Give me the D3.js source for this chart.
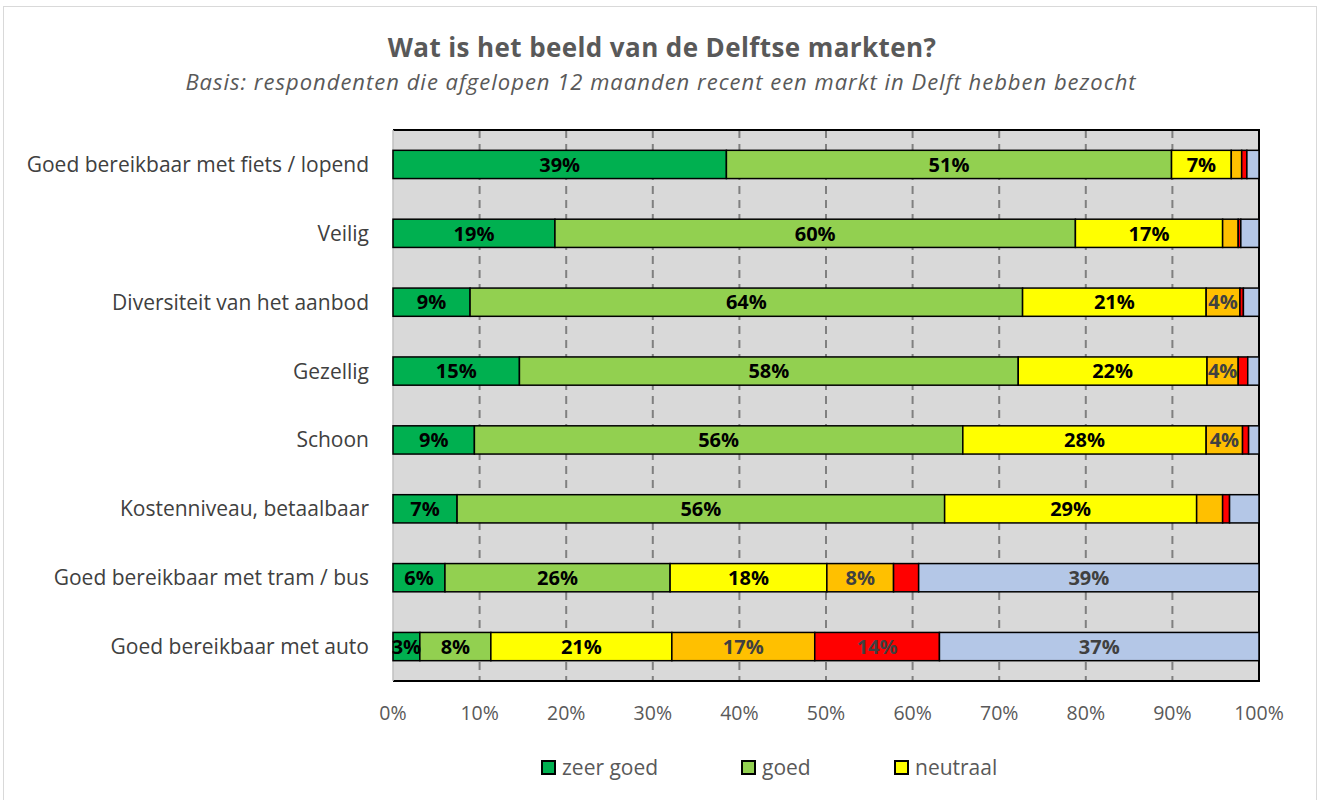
<!DOCTYPE html>
<html>
<head>
<meta charset="utf-8">
<script src="https://cdn.jsdelivr.net/npm/d3@7"></script>
<style>
  body { margin: 0; background: #fff; overflow: hidden; }
  text { font-family: "Open Sans", Lato, sans-serif; }
</style>
</head>
<body>
<svg id="chart" width="1321" height="800"></svg>
<script>
// categories (top to bottom)
var categories = [
    "Goed bereikbaar met fiets / lopend",
    "Veilig",
    "Diversiteit van het aanbod",
    "Gezellig",
    "Schoon",
    "Kostenniveau, betaalbaar",
    "Goed bereikbaar met tram / bus",
    "Goed bereikbaar met auto"
];

// series values (%), one per category
var zeerGoed   = [38.5, 18.7,  8.9, 14.6,  9.4,  7.4,  6.0,  3.1];
var goed       = [51.4, 60.1, 63.8, 57.6, 56.4, 56.3, 26.0,  8.2];
var neutraal   = [ 6.9, 17.0, 21.2, 21.8, 28.1, 29.1, 18.1, 20.9];
var slecht     = [ 1.2,  1.8,  3.9,  3.6,  4.2,  3.0,  7.7, 16.5];
var zeerSlecht = [ 0.6,  0.3,  0.4,  1.1,  0.7,  0.8,  2.9, 14.4];
var weetNiet   = [ 1.4,  2.1,  1.8,  1.3,  1.2,  3.4, 39.3, 36.9];

var seriesNames = ["zeer goed", "goed", "neutraal", "slecht", "zeer slecht", "weet niet"];
var seriesValues = [zeerGoed, goed, neutraal, slecht, zeerSlecht, weetNiet];
var seriesColors = ["#00B050", "#92D050", "#FFFF00", "#FFC000", "#FF0000", "#B4C7E7"];
var labelColors  = ["#000000", "#000000", "#000000", "#404040", "#404040", "#404040"];
// smallest value that still gets a data label, per series
var labelMin     = [3, 3, 3, 3.5, 3.5, 3.5];

var xTicks = [0, 10, 20, 30, 40, 50, 60, 70, 80, 90, 100];

var svg = d3.select("#chart");

// outer chart border
svg.append("rect")
    .attr("x", 3.5).attr("y", 6.5)
    .attr("width", 1313).attr("height", 900)
    .attr("fill", "none")
    .attr("stroke", "#d9d9d9");

// title
svg.append("text")
    .attr("x", 662).attr("y", 57)
    .attr("text-anchor", "middle")
    .style("font-size", "26px")
    .style("font-weight", "bold")
    .style("letter-spacing", "0.4px")
    .style("fill", "#595959")
    .text("Wat is het beeld van de Delftse markten?");

svg.append("text")
    .attr("x", 661).attr("y", 90)
    .attr("text-anchor", "middle")
    .style("font-size", "22px")
    .style("font-style", "italic")
    .style("letter-spacing", "1px")
    .style("fill", "#595959")
    .text("Basis: respondenten die afgelopen 12 maanden recent een markt in Delft hebben bezocht");

var plotL = 393, plotR = 1259, plotT = 130, plotB = 681;

var x = d3.scaleLinear().domain([0, 100]).range([plotL, plotR]);
var y = d3.scaleBand().domain(categories).range([plotT, plotB]).paddingInner(0.59).paddingOuter(0.295);

// plot background
svg.append("rect")
    .attr("x", plotL).attr("y", plotT)
    .attr("width", plotR - plotL).attr("height", plotB - plotT)
    .attr("fill", "#d9d9d9");

// dashed gridlines
svg.selectAll(".grid")
    .data(xTicks.filter(d => d > 0 && d < 100))
    .enter()
    .append("line")
    .attr("x1", d => x(d)).attr("x2", d => x(d))
    .attr("y1", plotT).attr("y2", plotB)
    .attr("stroke", "#808080")
    .attr("stroke-width", 2)
    .attr("stroke-dasharray", "8,6");

// plot border
svg.append("path")
    .attr("d", "M" + plotL + "," + plotT + "H" + plotR + "V" + plotB + "H" + plotL)
    .attr("fill", "none")
    .attr("stroke", "#000")
    .attr("stroke-width", 2);
svg.append("line")
    .attr("x1", plotL).attr("x2", plotL).attr("y1", plotT).attr("y2", plotB)
    .attr("stroke", "#bfbfbf").attr("stroke-width", 1.5);

// stack data
var rows = categories.map(function(c, i) {
    var row = { cat: c };
    seriesNames.forEach(function(s, j) { row[s] = seriesValues[j][i]; });
    return row;
});
var stacked = d3.stack().keys(seriesNames)(rows);

var groups = svg.selectAll(".series")
    .data(stacked)
    .enter()
    .append("g")
    .attr("fill", (d, i) => seriesColors[i]);

groups.selectAll("rect")
    .data(d => d)
    .enter()
    .append("rect")
    .attr("x", d => x(d[0]))
    .attr("y", d => y(d.data.cat))
    .attr("width", d => x(d[1]) - x(d[0]))
    .attr("height", y.bandwidth())
    .attr("stroke", "#000")
    .attr("stroke-width", 1.5);

// labels
stacked.forEach(function(s, i) {
    var key = s.key;
    svg.selectAll(".lbl" + i)
        .data(s.filter(d => d.data[key] >= labelMin[i]))
        .enter()
        .append("text")
        .attr("x", d => (x(d[0]) + x(d[1])) / 2)
        .attr("y", d => y(d.data.cat) + y.bandwidth() / 2)
        .attr("dy", "0.36em")
        .attr("text-anchor", "middle")
        .style("font-size", "20px")
        .style("font-weight", "bold")
        .style("fill", labelColors[i])
        .text(d => Math.round(d.data[key]) + "%");
});

// category labels
svg.selectAll(".cat")
    .data(categories)
    .enter()
    .append("text")
    .attr("x", 369)
    .attr("y", d => y(d) + y.bandwidth() / 2)
    .attr("dy", "0.36em")
    .attr("text-anchor", "end")
    .style("font-size", "21px")
    .style("fill", "#404040")
    .text(d => d);

// x axis tick labels
svg.selectAll(".xt")
    .data(xTicks)
    .enter()
    .append("text")
    .attr("x", d => x(d))
    .attr("y", 720)
    .attr("text-anchor", "middle")
    .style("font-size", "19.5px")
    .style("fill", "#595959")
    .text(d => d + "%");

// legend: only the first row is visible in the picture
var legendX = [542, 742, 895];
var legend = svg.selectAll(".leg")
    .data(seriesNames.slice(0, 3))
    .enter()
    .append("g")
    .attr("transform", (d, i) => "translate(" + legendX[i] + ",761)");

legend.append("rect")
    .attr("width", 13).attr("height", 13)
    .attr("fill", (d, i) => seriesColors[i])
    .attr("stroke", "#000")
    .attr("stroke-width", 2);

legend.append("text")
    .attr("x", 20).attr("y", 14)
    .style("font-size", "21px")
    .style("fill", "#595959")
    .text(d => d);
</script>
</body>
</html>
